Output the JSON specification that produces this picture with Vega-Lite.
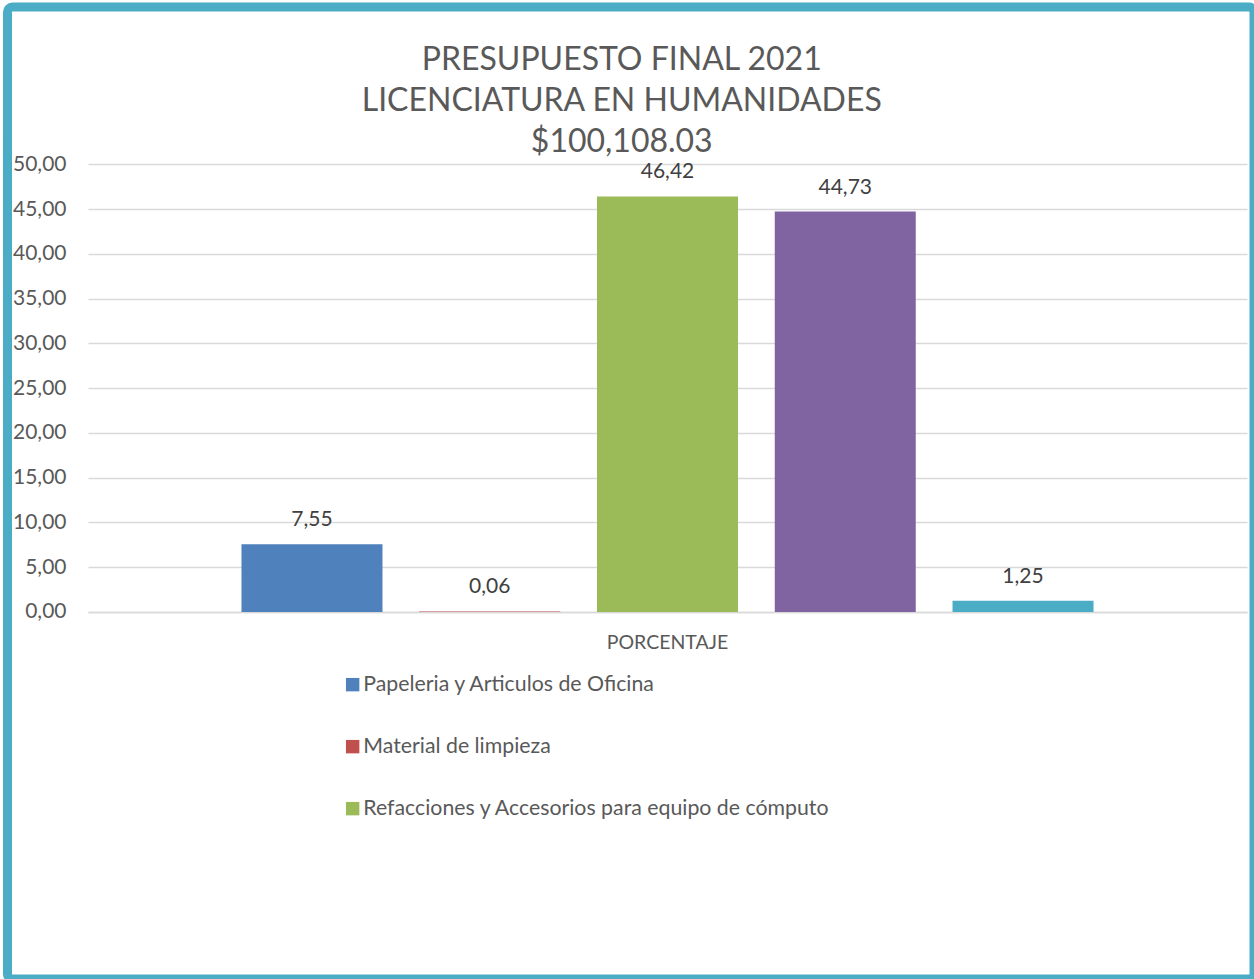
{
  "$schema": "https://vega.github.io/schema/vega-lite/v6.json",
  "autosize": {"type": "none"},
  "padding": {"left": 7.5, "top": 7, "right": 0, "bottom": 0},
  "width": 1246.5,
  "height": 972,
  "background": "white",
  "title": {
    "text": ["PRESUPUESTO FINAL 2021", "LICENCIATURA EN HUMANIDADES", "$100,108.03"],
    "font": "Lato",
    "fontSize": 32,
    "fontWeight": "normal",
    "color": "#595959",
    "lineHeight": 41,
    "anchor": "middle",
    "baseline": "alphabetic",
    "offset": -177,
    "dx": -9
  },
  "data": {
    "values": [
      {"categoria": "PORCENTAJE", "concepto": "Papeleria y Articulos de Oficina", "porcentaje": 7.55},
      {"categoria": "PORCENTAJE", "concepto": "Material de limpieza", "porcentaje": 0.06},
      {"categoria": "PORCENTAJE", "concepto": "Refacciones y Accesorios para equipo de cómputo", "porcentaje": 46.42},
      {"categoria": "PORCENTAJE", "concepto": "Serie 4", "porcentaje": 44.73},
      {"categoria": "PORCENTAJE", "concepto": "Serie 5", "porcentaje": 1.25}
    ]
  },
  "encoding": {
    "x": {
      "field": "categoria",
      "type": "nominal",
      "scale": {"range": [80.5, 1239.5], "paddingInner": 0, "paddingOuter": 0.152},
      "axis": {
        "title": null,
        "orient": "bottom",
        "offset": -367,
        "domainColor": "#D9D9D9",
        "domainWidth": 1.5,
        "ticks": false,
        "grid": false,
        "labelAngle": 0,
        "labelPadding": 21,
        "labelFont": "Lato",
        "labelFontSize": 19.5,
        "labelColor": "#595959"
      }
    },
    "xOffset": {
      "field": "concepto",
      "type": "nominal",
      "sort": ["Papeleria y Articulos de Oficina", "Material de limpieza", "Refacciones y Accesorios para equipo de cómputo", "Serie 4", "Serie 5"],
      "scale": {"paddingInner": 0.2068, "paddingOuter": 0.1034}
    },
    "y": {
      "field": "porcentaje",
      "type": "quantitative",
      "scale": {"domain": [-41.01, 67.59], "nice": false, "zero": false},
      "axis": {
        "title": null,
        "offset": -80.5,
        "values": [0, 5, 10, 15, 20, 25, 30, 35, 40, 45, 50],
        "format": ".2f",
        "domain": false,
        "ticks": false,
        "labelPadding": 22,
        "labelFont": "Lato",
        "labelFontSize": 21,
        "labelColor": "#595959",
        "labelOverlap": false,
        "gridColor": "#D9D9D9",
        "gridWidth": 1.5
      }
    }
  },
  "layer": [
    {
      "mark": {"type": "bar"},
      "encoding": {
        "y2": {"datum": 0},
        "color": {
          "field": "concepto",
          "type": "nominal",
          "scale": {
            "domain": ["Papeleria y Articulos de Oficina", "Material de limpieza", "Refacciones y Accesorios para equipo de cómputo", "Serie 4", "Serie 5"],
            "range": ["#4F81BD", "#C0504D", "#9BBB59", "#8064A2", "#4BACC6"]
          },
          "legend": {
            "values": ["Papeleria y Articulos de Oficina", "Material de limpieza", "Refacciones y Accesorios para equipo de cómputo"],
            "orient": "none",
            "legendX": 334.5,
            "legendY": 667,
            "direction": "vertical",
            "title": null,
            "symbolType": "square",
            "symbolSize": 180,
            "symbolStrokeWidth": 0,
            "labelFont": "Lato",
            "labelFontSize": 21.3,
            "labelColor": "#595959",
            "labelOffset": 0,
            "labelLimit": 900,
            "rowPadding": 40
          }
        }
      }
    },
    {
      "mark": {"type": "text", "baseline": "alphabetic", "dy": -18, "font": "Lato", "fontSize": 21, "color": "#404040"},
      "encoding": {
        "text": {"field": "porcentaje", "type": "quantitative", "format": ".2f"}
      }
    }
  ],
  "config": {
    "view": {"stroke": "#4BACC6", "strokeWidth": 9, "cornerRadius": 5},
    "locale": {"number": {"decimal": ",", "thousands": ".", "grouping": [3], "currency": ["$", ""]}}
  }
}
